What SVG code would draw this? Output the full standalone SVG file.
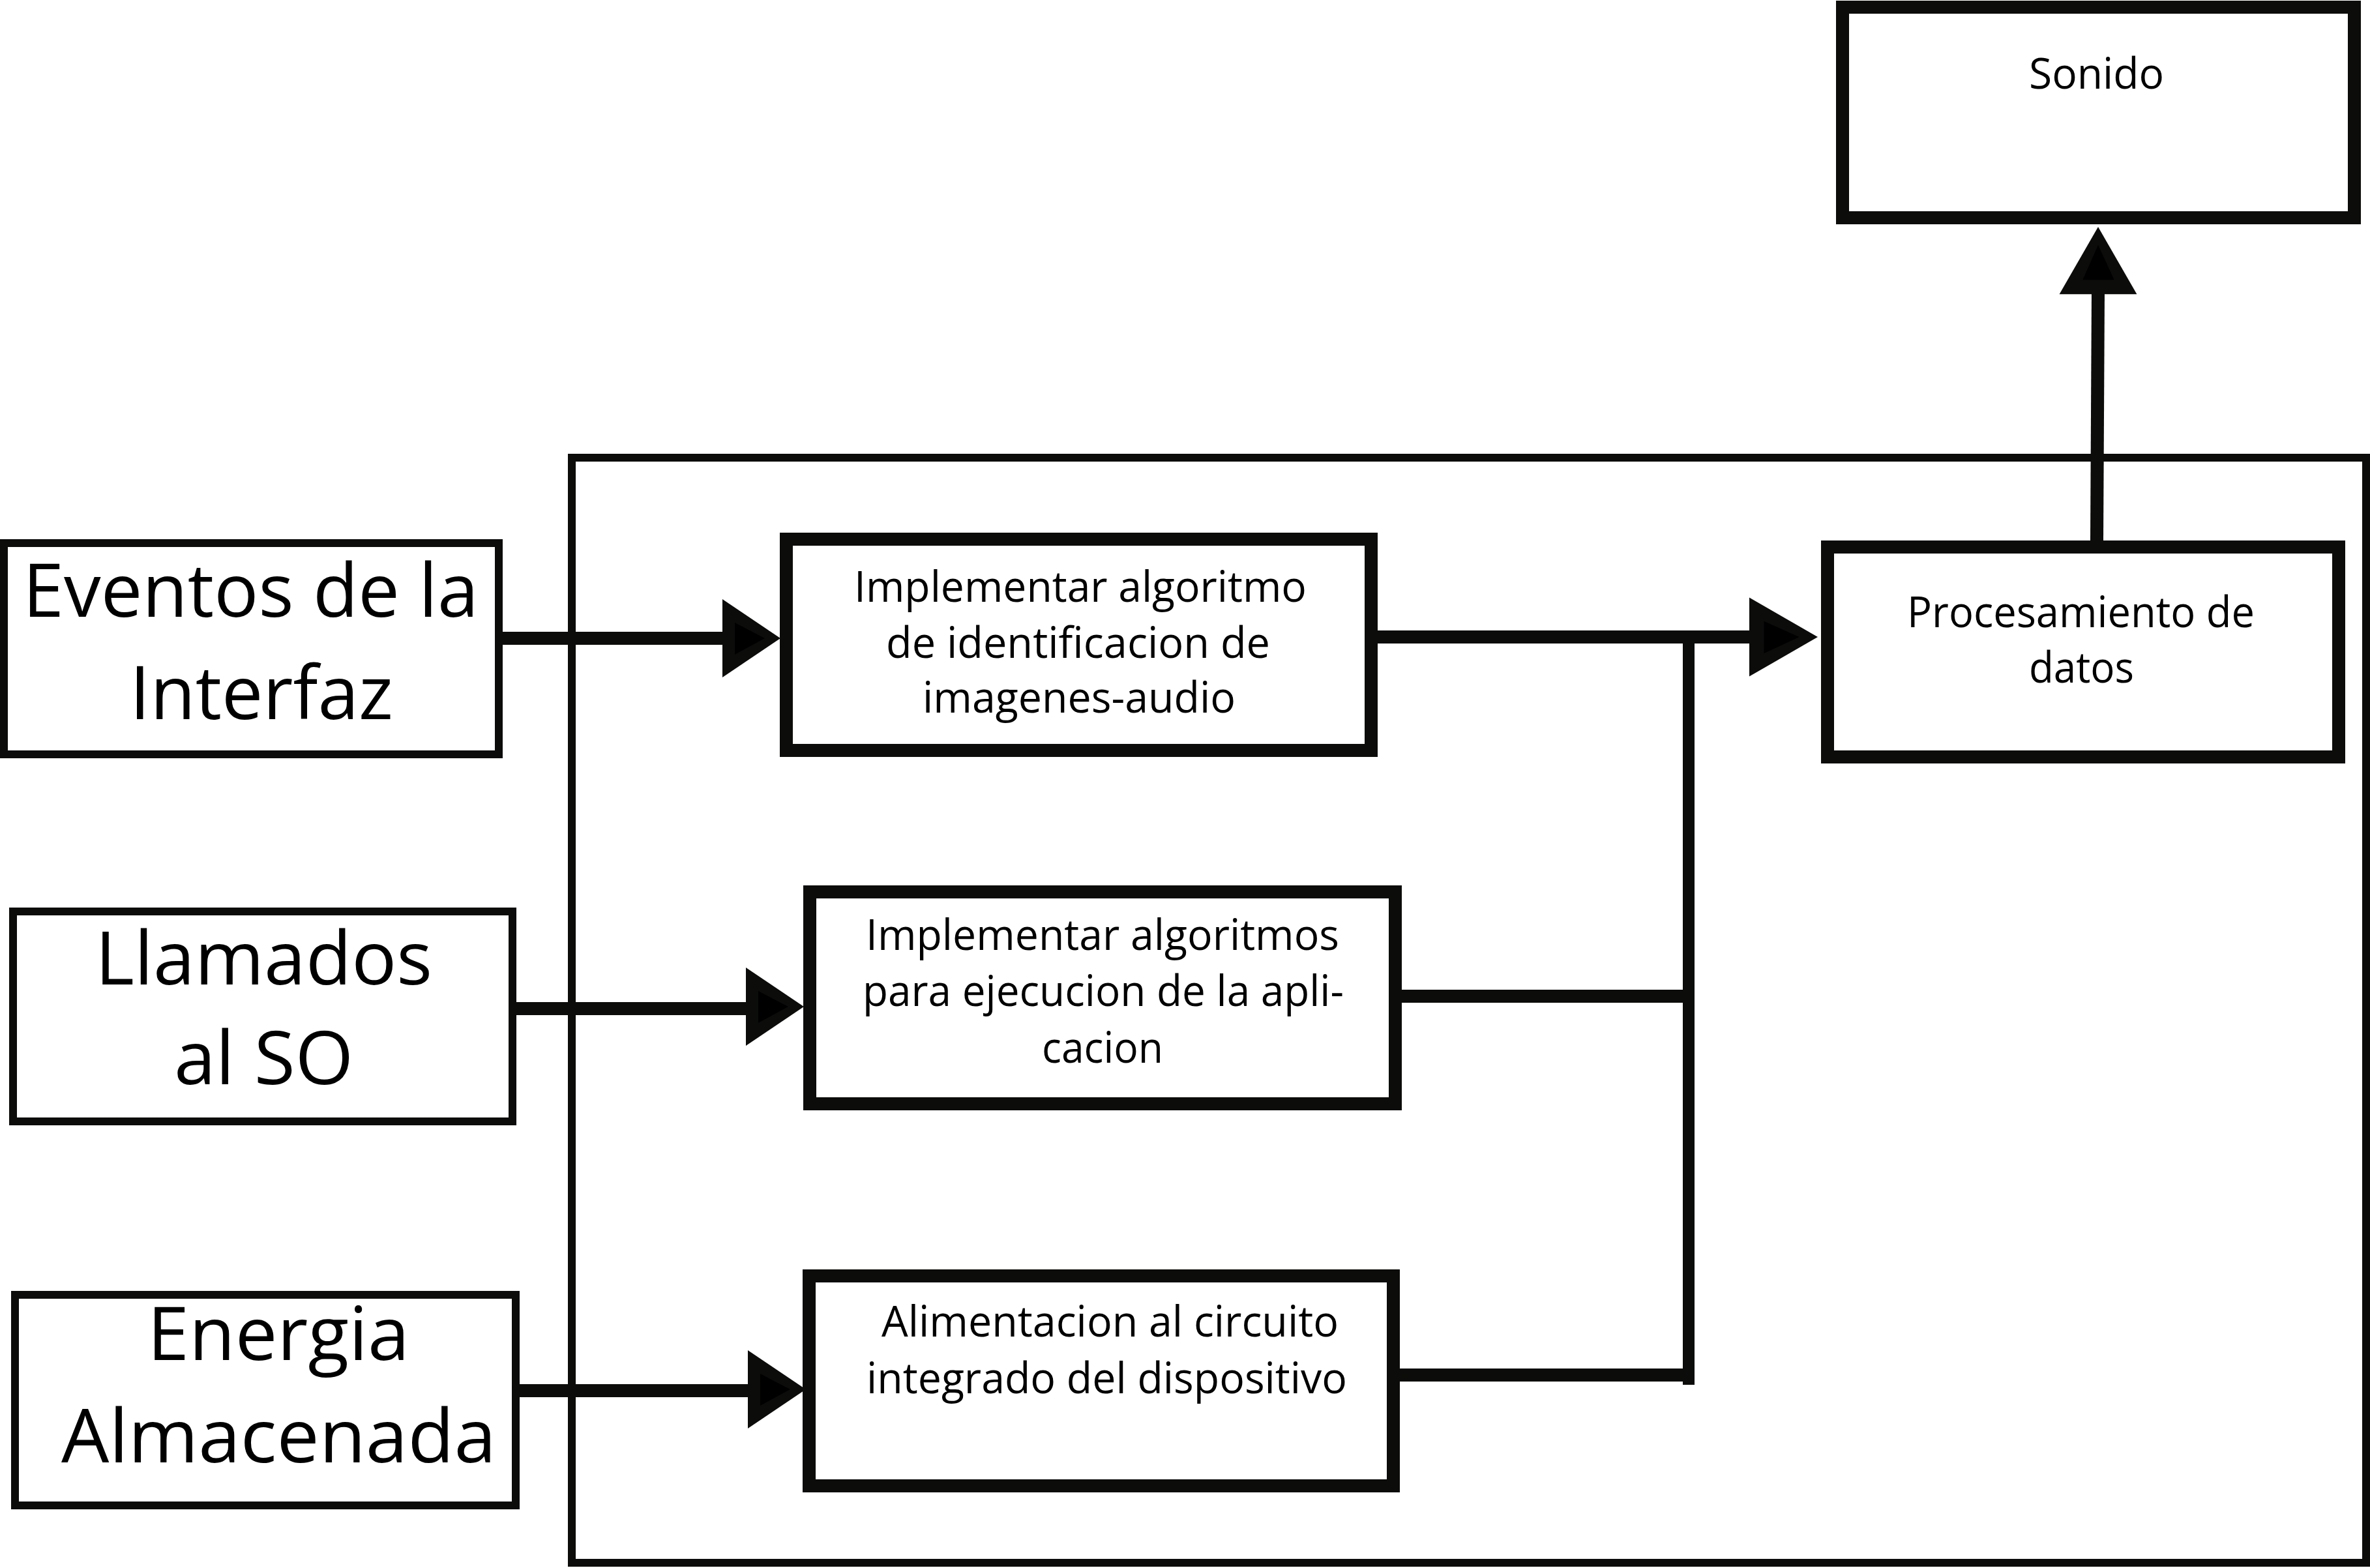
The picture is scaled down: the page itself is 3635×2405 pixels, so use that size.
<svg xmlns="http://www.w3.org/2000/svg" width="3635" height="2405" viewBox="0 0 3635 2405">
<style>
.bg{fill:#ffffff}
.frame{fill:none;stroke:#0c0d0b;stroke-width:12}
.inbox{fill:#ffffff;stroke:#0c0d0b;stroke-width:12}
.box{fill:#ffffff;stroke:#0c0d0b;stroke-width:20}
.wire{fill:none;stroke:#0c0d0b;stroke-width:20}
.bus{fill:none;stroke:#0c0d0b;stroke-width:18}
.big{font-family:"Open Sans","Noto Sans","Liberation Sans",sans-serif;font-size:113px;fill:#000}
.mid{font-family:"Open Sans","Noto Sans","Liberation Sans",sans-serif;font-size:66px;fill:#000}
</style>
<defs>
<g id="ah">
<polygon points="-89,-60 0,0 -89,60" fill="#0c0d0b"/>
<polygon points="-70,-24 -24,0 -70,25" fill="#000000"/>
</g>
</defs>
<rect class="bg" x="0" y="0" width="3635" height="2405"/>
<g id="frame">
<rect class="frame" x="877" y="702" width="2752" height="1695"/>
</g>
<g id="connectors">
<line class="wire" x1="771" y1="979" x2="1112" y2="979"/>
<use href="#ah" transform="translate(1197,979)"/>
<line class="wire" x1="792" y1="1547" x2="1150" y2="1547"/>
<use href="#ah" transform="translate(1233,1544)"/>
<line class="wire" x1="797" y1="2133" x2="1152" y2="2133"/>
<use href="#ah" transform="translate(1236,2131)"/>
<line class="wire" x1="2113" y1="977" x2="2690" y2="977"/>
<use href="#ah" transform="translate(2788,977) scale(1.18,1.01)"/>
<line class="bus" x1="2590" y1="977" x2="2590" y2="2124"/>
<line class="wire" x1="2150" y1="1528" x2="2590" y2="1528"/>
<line class="wire" x1="2147" y1="2109" x2="2590" y2="2109"/>
<line class="wire" x1="3216" y1="829" x2="3218" y2="445"/>
<use href="#ah" transform="translate(3218,348) rotate(-90) scale(1.16,0.99)"/>
</g>
<g id="node-eventos">
<rect class="inbox" x="6" y="833" width="759" height="324"/>
<text class="big" x="35" y="946" textLength="699" lengthAdjust="spacingAndGlyphs">Eventos de la</text>
<text class="big" x="199" y="1103" textLength="404" lengthAdjust="spacingAndGlyphs">Interfaz</text>
</g>
<g id="node-llamados">
<rect class="inbox" x="20" y="1398" width="766" height="322"/>
<text class="big" x="146" y="1510" textLength="517" lengthAdjust="spacingAndGlyphs">Llamados</text>
<text class="big" x="267" y="1663" textLength="275" lengthAdjust="spacingAndGlyphs">al SO</text>
</g>
<g id="node-energia">
<rect class="inbox" x="23" y="1986" width="768" height="323"/>
<text class="big" x="226" y="2086" textLength="402" lengthAdjust="spacingAndGlyphs">Energia</text>
<text class="big" x="94" y="2243" textLength="667" lengthAdjust="spacingAndGlyphs">Almacenada</text>
</g>
<g id="node-identificacion">
<rect class="box" x="1206" y="827" width="897" height="324"/>
<text class="mid" x="1310" y="923" textLength="694" lengthAdjust="spacingAndGlyphs">Implementar algoritmo</text>
<text class="mid" x="1359" y="1009" textLength="589" lengthAdjust="spacingAndGlyphs">de identificacion de</text>
<text class="mid" x="1415" y="1093" textLength="480" lengthAdjust="spacingAndGlyphs">imagenes-audio</text>
</g>
<g id="node-ejecucion">
<rect class="box" x="1242" y="1368" width="898" height="325"/>
<text class="mid" x="1328" y="1457" textLength="726" lengthAdjust="spacingAndGlyphs">Implementar algoritmos</text>
<text class="mid" x="1323" y="1543" textLength="738" lengthAdjust="spacingAndGlyphs">para ejecucion de la apli-</text>
<text class="mid" x="1598" y="1630" textLength="186" lengthAdjust="spacingAndGlyphs">cacion</text>
</g>
<g id="node-alimentacion">
<rect class="box" x="1241" y="1957" width="896" height="322"/>
<text class="mid" x="1352" y="2050" textLength="701" lengthAdjust="spacingAndGlyphs">Alimentacion al circuito</text>
<text class="mid" x="1329" y="2137" textLength="737" lengthAdjust="spacingAndGlyphs">integrado del dispositivo</text>
</g>
<g id="node-procesamiento">
<rect class="box" x="2803" y="839" width="784" height="322"/>
<text class="mid" x="2925" y="962" textLength="533" lengthAdjust="spacingAndGlyphs">Procesamiento de</text>
<text class="mid" x="3112" y="1047" textLength="161" lengthAdjust="spacingAndGlyphs">datos</text>
</g>
<g id="node-sonido">
<rect class="box" x="2826" y="11" width="785" height="323"/>
<text class="mid" x="3112" y="136" textLength="207" lengthAdjust="spacingAndGlyphs">Sonido</text>
</g>
</svg>
